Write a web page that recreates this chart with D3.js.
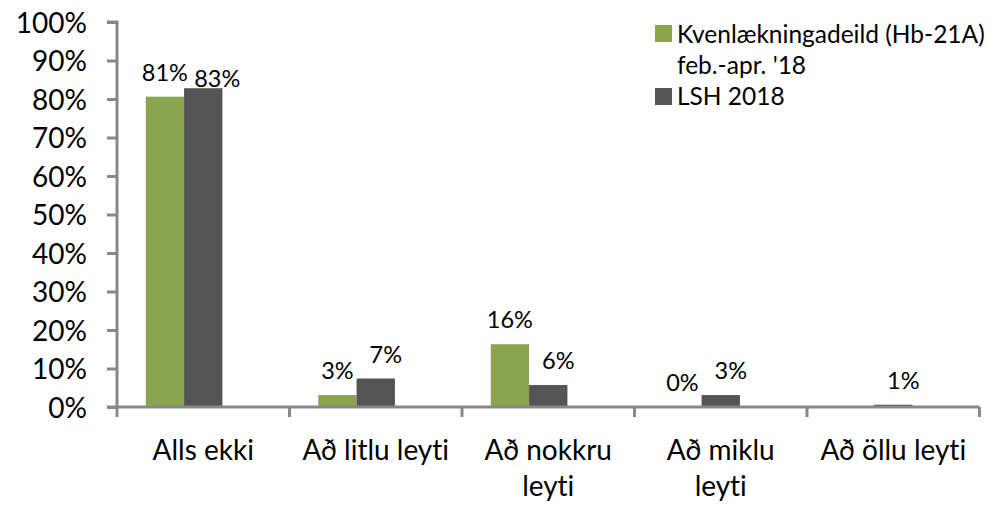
<!DOCTYPE html>
<html><head><meta charset="utf-8">
<script src="https://cdn.jsdelivr.net/npm/d3@7"></script>
<style>
body{margin:0;background:#fff;}
svg{display:block;font-family:Lato,"Open Sans",sans-serif;font-variant-ligatures:none;font-feature-settings:"liga" 0;}
</style></head>
<body><svg id="c" width="989" height="505"></svg>
<script>
const categories = ["Alls ekki","Að litlu leyti","Að nokkru leyti","Að miklu leyti","Að öllu leyti"];
const seriesNames = ["Kvenlækningadeild (Hb-21A) feb.-apr. '18","LSH 2018"];
const seriesKvenl = [80.6, 3.1, 16.3, 0, null];
const seriesLSH = [82.8, 7.4, 5.7, 3.1, 0.6];
const yTicks = [0,10,20,30,40,50,60,70,80,90,100];
const colors = ["#8BA54E","#545454"];

(function(){
const svg = d3.select("#c");
const mLeft = 117, mRight = 979.5, mTop = 22, mBottom = 407;
const axisColor = "#888888";

const x0 = d3.scaleBand().domain(categories).range([mLeft, mRight]).padding(0);
const x1 = d3.scaleBand().domain([0,1,2]).range([0, x0.bandwidth()]).paddingInner(0).paddingOuter(0.75);
const y = d3.scaleLinear().domain([0,100]).range([mBottom, mTop]);

const series = [seriesKvenl, seriesLSH];

series.forEach((vals, si) => {
  svg.append("g").selectAll("rect").data(vals.map((v,i)=>({v, c:categories[i]})).filter(d=>d.v!==null))
    .join("rect")
    .attr("x", d => x0(d.c) + x1(si))
    .attr("width", x1.bandwidth())
    .attr("y", d => y(d.v))
    .attr("height", d => mBottom - y(d.v))
    .attr("fill", colors[si]);
});

const yAxis = d3.axisLeft(y).tickValues(yTicks).tickFormat(d => d + "%").tickSize(10).tickPadding(20);
const gy = svg.append("g").attr("transform", `translate(${mLeft},0)`).call(yAxis);
gy.select(".domain").attr("stroke", axisColor).attr("stroke-width", 3).attr("d", `M-10,${mTop}H0V${mBottom}H-10`);
gy.selectAll(".tick line").attr("stroke", axisColor).attr("stroke-width", 3);
gy.selectAll(".tick text").attr("fill", "#000").style("font-size", "28px").style("font-family","Lato").attr("dy","0.36em");

const xAxis = d3.axisBottom(x0).tickSize(0).tickPadding(0);
const gx = svg.append("g").attr("transform", `translate(0,${mBottom})`).call(xAxis);
gx.select(".domain").attr("stroke", axisColor).attr("stroke-width", 3).attr("d", `M${mLeft},0H${mRight}`);
gx.selectAll(".tick").remove();
const bounds = [mLeft].concat(categories.map(c => x0(c) + x0.bandwidth()));
gx.selectAll("line.sep").data(bounds).join("line")
  .attr("x1", d=>d).attr("x2", d=>d).attr("y1", 0).attr("y2", 10)
  .attr("stroke", axisColor).attr("stroke-width", 3);

const catG = svg.append("g");
categories.forEach(c => {
  const cx = x0(c) + x0.bandwidth()/2;
  const t = catG.append("text").attr("x", cx).attr("y", 460)
    .attr("text-anchor","middle").style("font-size","28px").attr("fill","#000");
  const words = c.split(" ");
  let line = [];
  let ts = t.append("tspan").attr("x", cx).attr("dy", 0);
  words.forEach(w => {
    line.push(w);
    ts.text(line.join(" "));
    if (ts.node().getComputedTextLength() > x0.bandwidth() - 10 && line.length > 1) {
      line.pop(); ts.text(line.join(" "));
      line = [w];
      ts = t.append("tspan").attr("x", cx).attr("dy", 36).text(w);
    }
  });
});

series.forEach((vals, si) => {
  svg.append("g").selectAll("text").data(vals.map((v,i)=>({v, i, c:categories[i]})).filter(d=>d.v!==null))
    .join("text")
    .attr("x", d => {
      let cx = x0(d.c) + x1(si) + x1.bandwidth()/2;
      if (si === 1) cx += (d.i === 0 ? 14 : 10);
      return cx;
    })
    .attr("y", d => {
      const yt = y(d.v);
      if (si === 1 && d.i === 0) return yt - 1;
      return yt - 16;
    })
    .attr("text-anchor","middle").style("font-size","23.5px").attr("fill","#000")
    .text(d => Math.round(d.v) + "%");
});

const lg = svg.append("g");
lg.append("rect").attr("x",655).attr("y",25).attr("width",17).attr("height",17).attr("fill",colors[0]);
lg.append("text").attr("x",677).attr("y",43).style("font-size","24.5px").attr("fill","#000").text("Kvenlækningadeild (Hb-21A)");
lg.append("text").attr("x",677).attr("y",74).style("font-size","24.5px").attr("fill","#000").text("feb.-apr. '18");
lg.append("rect").attr("x",655).attr("y",88).attr("width",17).attr("height",17).attr("fill",colors[1]);
lg.append("text").attr("x",677).attr("y",105).style("font-size","24.5px").attr("fill","#000").text(seriesNames[1]);
})();
</script></body></html>
